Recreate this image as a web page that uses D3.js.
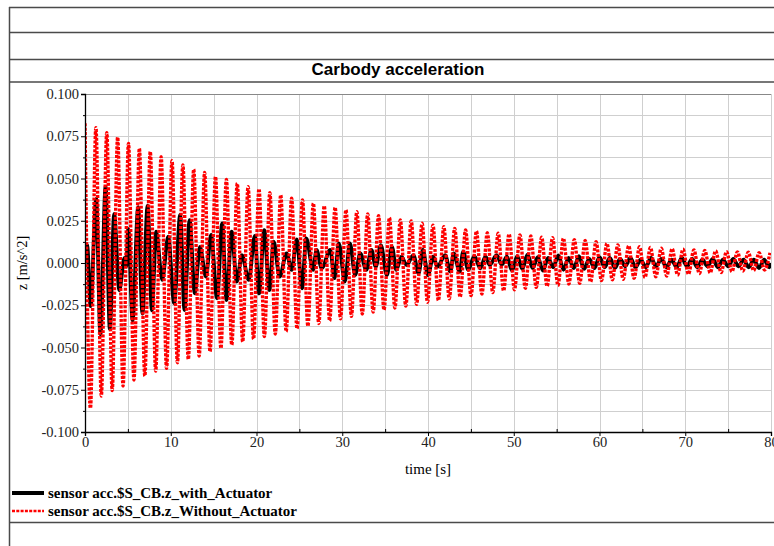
<!DOCTYPE html>
<html>
<head>
<meta charset="utf-8">
<script src="https://cdn.jsdelivr.net/npm/d3@7"></script>
<style>
  body { margin: 0; background: #fff; }
  .tick text { font-family: "Liberation Serif", "Times New Roman", serif; font-size: 14.5px; fill: #222; }
</style>
</head>
<body>
<div id="chart"></div>
<script>
// crest / trough values of the red trace (Without_Actuator), one per period
var redPeriod = 1.268;
var redUpper = [0.0827, 0.0801, 0.0771, 0.0744, 0.0708, 0.0678, 0.0659, 0.0629, 0.0605, 0.0580,
  0.0554, 0.0536, 0.0511, 0.0495, 0.0471, 0.0452, 0.0438, 0.0416, 0.0402, 0.0383,
  0.0373, 0.0353, 0.0337, 0.0329, 0.0314, 0.0304, 0.0290, 0.0280, 0.0268, 0.0254,
  0.0249, 0.0235, 0.0223, 0.0215, 0.0205, 0.0195, 0.0189, 0.0179, 0.0176, 0.0172,
  0.0166, 0.0160, 0.0152, 0.0150, 0.0146, 0.0138, 0.0134, 0.0126, 0.0116, 0.0107,
  0.0101, 0.0096, 0.0092, 0.0087, 0.0084, 0.0081, 0.0077, 0.0075, 0.0072, 0.0067,
  0.0066, 0.0064, 0.0061, 0.0060];
var redLower = [-0.0860, -0.0787, -0.0755, -0.0728, -0.0692, -0.0669, -0.0639, -0.0623, -0.0590, -0.0570,
  -0.0550, -0.0525, -0.0505, -0.0485, -0.0466, -0.0450, -0.0435, -0.0420, -0.0405, -0.0388,
  -0.0372, -0.0358, -0.0342, -0.0330, -0.0316, -0.0302, -0.0290, -0.0278, -0.0266, -0.0255,
  -0.0244, -0.0232, -0.0222, -0.0212, -0.0202, -0.0193, -0.0184, -0.0175, -0.0165, -0.0158,
  -0.0150, -0.0144, -0.0138, -0.0132, -0.0124, -0.0120, -0.0112, -0.0104, -0.0099, -0.0096,
  -0.0091, -0.0085, -0.0081, -0.0077, -0.0071, -0.0066, -0.0062, -0.0058, -0.0056, -0.0051,
  -0.0047, -0.0045, -0.0041];

// extrema of the black trace (with_Actuator)
var blackT = [0, 0.25, 0.65, 1.3, 1.8, 2.4, 2.9, 3.4, 4.0, 4.6, 4.8, 5.05, 5.55, 6.2, 6.7, 7.3, 7.8, 8.3, 9.0, 9.7,
  10.4, 11.1, 11.6, 12.2, 12.8, 13.4, 14.1, 14.7, 15.4, 16.0, 16.5, 17.1, 17.7, 18.3, 19.1, 19.8,
  20.3, 20.9, 21.5, 22.0, 22.7, 23.5, 24.1, 24.7, 25.3, 25.8, 26.6, 27.0, 27.6, 28.6, 29.1, 29.6,
  30.3, 30.9, 31.5, 32.1, 32.8, 33.4, 33.9, 34.5, 35.2, 35.8, 36.3, 36.9, 37.5, 38.3, 38.9, 39.4,
  40.0, 40.6, 41.1, 42.0, 42.6, 43.0, 43.7, 44.1, 44.7, 45.4, 46.1, 46.7, 47.2, 48.0, 48.6, 49.2,
  49.8, 50.4, 51.0, 51.6, 52.2, 52.8, 53.4, 54.0, 54.6, 55.2, 55.8, 56.4, 57.0, 57.6, 58.2, 58.8,
  59.4, 60.0, 60.6, 61.2, 61.8, 62.4, 63.0, 63.6, 64.2, 64.8, 65.4, 66.0, 66.6, 67.2, 67.8, 68.4,
  69.0, 69.6, 70.2, 70.8, 71.4, 72.0, 72.6, 73.2, 73.8, 74.4, 75.0, 75.6, 76.2, 76.8, 77.4, 78.0,
  78.6, 79.2, 79.8, 80];
var blackV = [0, 0.0105, -0.0255, 0.0380, -0.0420, 0.0450, -0.0390, 0.0290, -0.0160, 0.0030, -0.0020, 0.0200, -0.0340, 0.0330, -0.0300, 0.0340, -0.0280, 0.0185, -0.0100, 0.0156,
  -0.0238, 0.0284, -0.0278, 0.0254, -0.0179, 0.0096, -0.0081, 0.0166, -0.0209, 0.0235, -0.0219, 0.0185, -0.0110, 0.0047, -0.0100, 0.0160,
  -0.0180, 0.0195, -0.0160, 0.0126, -0.0081, 0.0057, -0.0041, 0.0140, -0.0150, 0.0146, -0.0041, 0.0077, -0.0031, 0.0077, -0.0090, 0.0116,
  -0.0110, 0.0116, -0.0071, 0.0057, -0.0041, 0.0077, -0.0022, 0.0106, -0.0071, 0.0096, -0.0041, 0.0037, -0.0012, 0.0047, -0.0061, 0.0077,
  -0.0071, 0.0037, -0.0022, 0.0047, -0.0051, 0.0057, -0.0051, 0.0067, -0.0041, 0.0041, -0.0031, 0.0037, -0.0012, 0.0047, -0.0010, 0.0037,
  -0.0045, 0.0040, -0.0035, 0.0050, -0.0030, 0.0035, -0.0045, 0.0030, -0.0025, 0.0045, -0.0040, 0.0030, -0.0030, 0.0040, -0.0035, 0.0025,
  -0.0030, 0.0035, -0.0025, 0.0030, -0.0030, 0.0025, -0.0020, 0.0030, -0.0025, 0.0020, -0.0025, 0.0030, -0.0020, 0.0025, -0.0025, 0.0020,
  -0.0025, 0.0030, -0.0020, 0.0025, -0.0025, 0.0020, -0.0020, 0.0025, -0.0025, 0.0020, -0.0020, 0.0025, -0.0020, 0.0020, -0.0025, 0.0020,
  -0.0030, 0.0020, -0.0025, 0];

var xTicks = [0, 10, 20, 30, 40, 50, 60, 70, 80];
var yTicks = [-0.1, -0.075, -0.05, -0.025, 0, 0.025, 0.05, 0.075, 0.1];
var seriesNames = ["sensor acc.$S_CB.z_with_Actuator", "sensor acc.$S_CB.z_Without_Actuator"];

var W = 774, H = 546;
var svg = d3.select("#chart").append("svg")
    .attr("width", W)
    .attr("height", H)
    .style("display", "block");

svg.append("rect").attr("width", W).attr("height", H).attr("fill", "#fff");

// frame of the plot window
var frame = [[9, 7.5, W, 7.5], [9, 32.5, W, 32.5], [9, 59.5, W, 59.5], [9, 82, W, 82], [9, 522.5, W, 522.5]];
svg.selectAll(".frame").data(frame).enter().append("line")
    .attr("x1", function(d) { return d[0]; }).attr("y1", function(d) { return d[1]; })
    .attr("x2", function(d) { return d[2]; }).attr("y2", function(d) { return d[3]; })
    .attr("stroke", "#4a4a4a").attr("stroke-width", 1.5);
svg.append("line").attr("x1", 9.5).attr("x2", 9.5).attr("y1", 7).attr("y2", H)
    .attr("stroke", "#4a4a4a").attr("stroke-width", 1.5);

svg.append("text")
    .attr("x", 398).attr("y", 75)
    .attr("text-anchor", "middle")
    .style("font-family", "'Liberation Sans', Arial, sans-serif")
    .style("font-size", "17px").style("font-weight", "bold")
    .text("Carbody acceleration");

var x = d3.scaleLinear().domain([0, 80]).range([85, 771]);
var y = d3.scaleLinear().domain([-0.1, 0.1]).range([432, 94]);

// grid
var g = svg.append("g");
g.selectAll(".vgrid").data(d3.range(5, 81, 5)).enter().append("line")
    .attr("x1", function(d) { return Math.round(x(d)) + 0.5; })
    .attr("x2", function(d) { return Math.round(x(d)) + 0.5; })
    .attr("y1", y(0.1)).attr("y2", y(-0.1))
    .attr("stroke", "#cfcfcf").attr("stroke-width", 1);
g.selectAll(".hgrid").data(d3.range(-0.0875, 0.1001, 0.0125)).enter().append("line")
    .attr("x1", x(0)).attr("x2", x(80))
    .attr("y1", function(d) { return Math.round(y(d)) + 0.5; })
    .attr("y2", function(d) { return Math.round(y(d)) + 0.5; })
    .attr("stroke", function(d) { return d > 0.099 ? "#888" : "#cfcfcf"; })
    .attr("stroke-width", 1);

svg.append("defs").append("clipPath").attr("id", "clip")
  .append("rect").attr("x", x(0)).attr("y", y(0.1) - 2).attr("width", x(80) - x(0)).attr("height", y(-0.1) - y(0.1) + 4);

// build the point lists
var redPts = [];
redUpper.forEach(function(v, k) {
    redPts.push([k * redPeriod, v]);
    if (k < redLower.length) redPts.push([(k + 0.5) * redPeriod, redLower[k]]);
});
var blackPts = blackT.map(function(t, i) { return [t, blackV[i]]; });

var line = d3.line()
    .x(function(d) { return x(d[0]); })
    .y(function(d) { return y(d[1]); })
    .curve(d3.curveMonotoneX);

var plot = svg.append("g").attr("clip-path", "url(#clip)");
plot.append("path").datum(blackPts)
    .attr("d", line)
    .attr("fill", "none").attr("stroke", "#000").attr("stroke-width", 3.8)
    .attr("stroke-linejoin", "round");
plot.append("path").datum(redPts)
    .attr("d", line)
    .attr("fill", "none").attr("stroke", "#ff0000").attr("stroke-width", 3.4)
    .attr("stroke-dasharray", "3,1.4");

// axes
var fmt = function(v) { return (Math.abs(v) < 1e-9 ? 0 : v).toFixed(3); };
svg.append("g")
    .attr("transform", "translate(" + x(0) + ",0)")
    .call(d3.axisLeft(y).tickValues(yTicks).tickFormat(fmt).tickSize(4).tickPadding(2))
    .call(function(a) { a.select(".domain").attr("stroke", "#000").attr("stroke-width", 1.3); });
svg.append("g")
    .attr("transform", "translate(" + x(0) + ",0)")
    .call(d3.axisLeft(y).tickValues(d3.range(-0.0875, 0.1, 0.025)).tickFormat("").tickSize(2))
    .call(function(a) { a.select(".domain").remove(); });
svg.append("g")
    .attr("transform", "translate(0," + y(-0.1) + ")")
    .call(d3.axisBottom(x).tickValues(xTicks).tickFormat(d3.format("d")).tickSize(4).tickPadding(1))
    .call(function(a) { a.select(".domain").attr("stroke", "#000").attr("stroke-width", 1.3); });
svg.append("g")
    .attr("transform", "translate(0," + y(-0.1) + ")")
    .call(d3.axisTop(x).tickValues(d3.range(5, 80, 10)).tickFormat("").tickSize(3))
    .call(function(a) { a.select(".domain").remove(); });

svg.append("text")
    .attr("x", 428).attr("y", 474)
    .attr("text-anchor", "middle")
    .style("font-family", "'Liberation Serif', 'Times New Roman', serif")
    .style("font-size", "15px")
    .text("time [s]");
svg.append("text")
    .attr("transform", "translate(27,263) rotate(-90)")
    .attr("text-anchor", "middle")
    .style("font-family", "'Liberation Serif', 'Times New Roman', serif")
    .style("font-size", "14.5px")
    .text("z [m/s^2]");

// legend
var legend = svg.append("g").selectAll("g").data(seriesNames).enter().append("g")
    .attr("transform", function(d, i) { return "translate(12," + (493 + i * 18) + ")"; });
legend.append("line")
    .attr("x1", 0).attr("x2", 32).attr("y1", 0).attr("y2", 0)
    .attr("stroke", function(d, i) { return i === 0 ? "#000" : "#ff0000"; })
    .attr("stroke-width", function(d, i) { return i === 0 ? 4 : 2.5; })
    .attr("stroke-dasharray", function(d, i) { return i === 0 ? null : "3,1.3"; });
legend.append("text")
    .attr("x", 36).attr("y", 5)
    .style("font-family", "'Liberation Serif', 'Times New Roman', serif")
    .style("font-size", "15px").style("font-weight", "bold")
    .text(function(d) { return d; });
</script>
</body>
</html>
